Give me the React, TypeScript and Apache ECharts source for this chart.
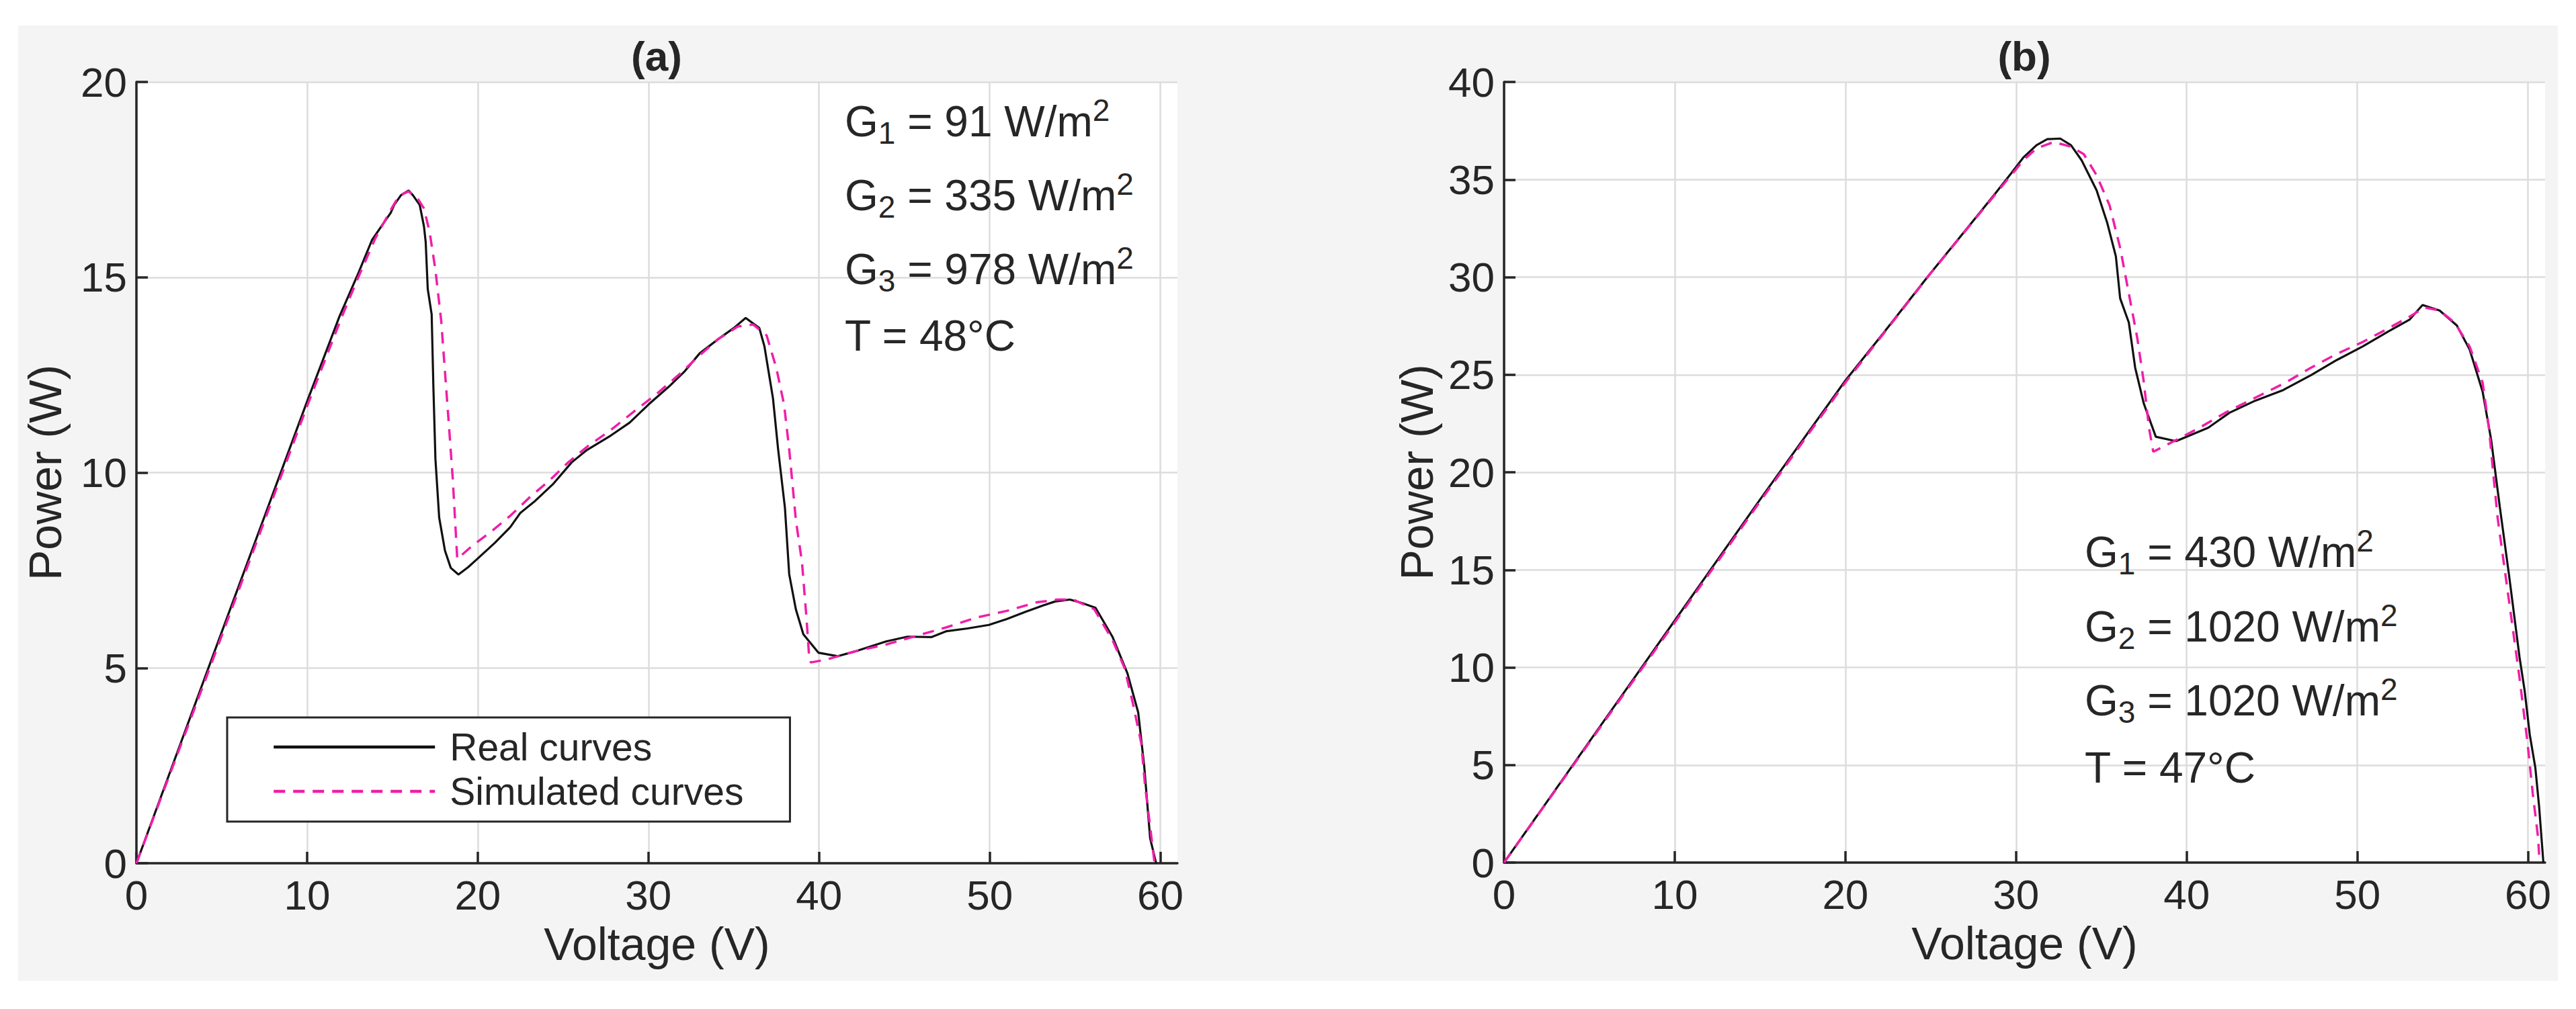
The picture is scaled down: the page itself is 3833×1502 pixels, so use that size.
import * as echarts from "echarts";
import { useEffect, useRef } from "react";

const FONT = '"Liberation Sans", Arial, Helvetica, sans-serif';
const INK = "#262626";
const PINK = "#f01ea8";

const voltageTicks = [0, 10, 20, 30, 40, 50, 60];
const powerTicksA = [0, 5, 10, 15, 20];
const powerTicksB = [0, 5, 10, 15, 20, 25, 30, 35, 40];

const legendNames = ["Real curves", "Simulated curves"];
const panelTitles = ["(a)", "(b)"];

const irradianceA = [91, 335, 978];
const temperatureA = 48;
const irradianceB = [430, 1020, 1020];
const temperatureB = 47;

// [voltage, power]
const realA = [
  [0, 0], [2, 2.37], [4, 4.74], [6, 7.1], [8, 9.46], [10, 11.82], [11.9, 14.0],
  [13.0, 15.1], [13.8, 15.95], [14.5, 16.4], [14.9, 16.65], [15.1, 16.85], [15.5, 17.1],
  [15.95, 17.22], [16.2, 17.1], [16.6, 16.85], [16.85, 16.3], [16.95, 15.9], [17.07, 14.7],
  [17.3, 14.05], [17.4, 12.2], [17.52, 10.35], [17.74, 8.85], [18.08, 8.0], [18.42, 7.56],
  [18.87, 7.39], [19.44, 7.58], [20.0, 7.8], [21.0, 8.2], [21.9, 8.6], [22.5, 8.97],
  [23.3, 9.25], [24.4, 9.7], [25.5, 10.26], [26.4, 10.58], [27.8, 10.95], [28.9, 11.28],
  [30.0, 11.74], [31.2, 12.2], [32.1, 12.58], [33.0, 13.05], [34.1, 13.42], [35.0, 13.7],
  [35.7, 13.96], [36.5, 13.7], [36.8, 13.23], [37.3, 11.9], [37.6, 10.6], [38.0, 9.1],
  [38.25, 7.4], [38.64, 6.5], [39.08, 5.86], [39.96, 5.39], [41.1, 5.3], [42.17, 5.43],
  [43.94, 5.68], [45.18, 5.8], [46.6, 5.79], [47.47, 5.94], [48.7, 6.01], [49.95, 6.1],
  [51.0, 6.25], [52.07, 6.43], [53.13, 6.6], [53.83, 6.7], [54.7, 6.75], [55.42, 6.66],
  [56.2, 6.54], [57.2, 5.79], [58.07, 4.86], [58.7, 3.86], [59.05, 2.5], [59.4, 0.64],
  [59.75, 0],
];

const simulatedA = [
  [0, 0], [4, 4.65], [8, 9.35], [10, 11.7], [12, 13.95], [13, 15.0], [14, 16.0],
  [15, 16.8], [15.4, 17.09], [15.95, 17.2], [16.5, 17.0], [16.84, 16.77], [17.18, 16.16],
  [17.52, 15.19], [17.86, 13.88], [18.08, 12.58], [18.3, 11.28], [18.53, 9.88],
  [18.71, 8.49], [18.8, 7.79], [19.66, 8.12], [20.79, 8.49], [21.92, 8.9], [23.05, 9.37],
  [24.18, 9.79], [25.3, 10.26], [26.43, 10.67], [27.8, 11.09], [29.14, 11.56],
  [30.5, 12.02], [31.85, 12.53], [33.0, 13.0], [34.1, 13.42], [35.24, 13.74],
  [36.14, 13.79], [36.93, 13.51], [37.5, 12.67], [37.95, 11.74], [38.25, 10.6],
  [38.64, 8.79], [39.0, 7.7], [39.26, 6.3], [39.43, 5.21], [39.52, 5.14], [40.4, 5.21],
  [42.17, 5.43], [43.94, 5.6], [45.7, 5.82], [47.47, 6.04], [49.24, 6.29], [51.0, 6.46],
  [52.77, 6.68], [54.0, 6.75], [54.9, 6.75], [56.13, 6.5], [57.2, 5.71], [57.9, 5.0],
  [58.4, 4.07], [58.88, 3.07], [59.1, 2.0], [59.4, 0.93], [59.66, 0],
];

const realB = [
  [0, 0], [5, 6.2], [10, 12.4], [15, 18.6], [20, 24.7], [22.2, 27.1], [24.9, 30.1],
  [26.2, 31.5], [27.6, 33.0], [28.8, 34.3], [29.7, 35.3], [30.45, 36.15], [31.2, 36.76],
  [31.83, 37.07], [32.59, 37.1], [33.22, 36.76], [33.84, 35.99], [34.72, 34.45],
  [35.35, 32.76], [35.85, 31.06], [36.1, 28.91], [36.61, 27.67], [36.98, 25.36],
  [37.49, 23.51], [38.19, 21.82], [39.37, 21.59], [41.26, 22.28], [42.51, 23.05],
  [44.02, 23.67], [45.65, 24.21], [47.29, 24.98], [48.79, 25.75], [50.3, 26.44],
  [51.8, 27.21], [53.07, 27.83], [53.82, 28.57], [54.82, 28.29], [55.83, 27.52],
  [56.58, 26.29], [57.34, 24.13], [57.84, 21.66], [58.34, 18.27], [58.88, 14.78],
  [59.5, 10.54], [59.8, 8.82], [60.1, 6.57], [60.43, 4.85], [60.65, 2.87], [60.9, 0],
];

const simulatedB = [
  [0, 0], [5, 6.15], [10, 12.3], [15, 18.5], [20, 24.6], [25, 30.2], [28, 33.4],
  [29.5, 35.0], [30.45, 36.0], [31.2, 36.6], [32.2, 36.92], [33.2, 36.69], [33.97, 36.3],
  [34.72, 35.22], [35.48, 33.68], [36.1, 31.5], [36.6, 29.2], [37.1, 26.9], [37.49, 24.6],
  [37.79, 22.28], [38.04, 21.05], [39.25, 21.59], [40.75, 22.28], [42.26, 23.05],
  [44.02, 23.82], [45.78, 24.59], [47.29, 25.36], [48.79, 26.06], [50.3, 26.67],
  [51.81, 27.37], [53.07, 27.98], [53.94, 28.44], [54.82, 28.29], [55.7, 27.67],
  [56.58, 26.44], [57.34, 24.59], [57.71, 22.28], [57.96, 19.97], [58.22, 17.66],
  [58.88, 13.45], [59.5, 9.48], [59.97, 6.15], [60.28, 3.53], [60.59, 1.28], [60.65, 0.4],
];

const axisLineStyle = { color: INK, width: 3.5 };

const makeXAxis = (gridIndex: number) => ({
  type: "value",
  gridIndex,
  min: 0,
  max: 61,
  interval: 10,
  name: "Voltage (V)",
  nameLocation: "middle",
  nameGap: 86,
  nameTextStyle: { fontSize: 68, color: INK, fontFamily: FONT },
  axisLine: { show: true, onZero: false, lineStyle: axisLineStyle },
  axisTick: { show: true, inside: true, length: 17, customValues: voltageTicks, lineStyle: axisLineStyle },
  axisLabel: { fontSize: 62, color: INK, fontFamily: FONT, margin: 16, customValues: voltageTicks },
  splitLine: { show: true, lineStyle: { color: "#dcdcdc", width: 2.5 } },
});

const makeYAxis = (gridIndex: number, max: number, ticks: number[], gap: number) => ({
  type: "value",
  gridIndex,
  min: 0,
  max,
  interval: 5,
  name: "Power (W)",
  nameLocation: "middle",
  nameGap: gap,
  nameTextStyle: { fontSize: 68, color: INK, fontFamily: FONT },
  axisLine: { show: true, onZero: false, lineStyle: axisLineStyle },
  axisTick: { show: true, inside: true, length: 17, customValues: ticks, lineStyle: axisLineStyle },
  axisLabel: { fontSize: 62, color: INK, fontFamily: FONT, margin: 14, customValues: ticks },
  splitLine: { show: true, lineStyle: { color: "#dcdcdc", width: 2.5 } },
});

const curve = (name: string, data: number[][], idx: number, dashed: boolean) => ({
  type: "line",
  name,
  data,
  xAxisIndex: idx,
  yAxisIndex: idx,
  symbol: "none",
  showSymbol: false,
  z: dashed ? 4 : 3,
  lineStyle: dashed
    ? { color: PINK, width: 3.5, type: [17, 12] }
    : { color: "#111111", width: 3.2 },
  itemStyle: { color: dashed ? PINK : "#111111" },
});

const richAnnot = {
  s: { fontSize: 46, lineHeight: 46, verticalAlign: "bottom", fontFamily: FONT, fill: INK },
  p: { fontSize: 46, lineHeight: 46, verticalAlign: "top", fontFamily: FONT, fill: INK },
};

const annotLines = (g: number[], t: number) => [
  ...g.map((v, i) => `G{s|${i + 1}} = ${v} W/m{p|2}`),
  `T = ${t}°C`,
];

const annotText = (text: string, x: number, y: number) => ({
  type: "text",
  x,
  y,
  z: 10,
  style: {
    text,
    rich: richAnnot,
    fontSize: 64,
    fontFamily: FONT,
    lineHeight: 80,
    fill: INK,
    align: "left",
    verticalAlign: "middle",
  },
});

export default function App() {
  const ref = useRef<HTMLDivElement>(null);

  useEffect(() => {
    if (!ref.current) return;
    const chart = echarts.init(ref.current, null, { renderer: "svg" });

    const linesA = annotLines(irradianceA, temperatureA);
    const linesB = annotLines(irradianceB, temperatureB);
    const rowsA = [181, 291, 401, 500];
    const rowsB = [822, 933, 1043, 1143];

    const option = {
      animation: false,
      backgroundColor: "#ffffff",
      grid: [
        { left: 203, top: 122, width: 1549, height: 1163, show: true, backgroundColor: "#ffffff", borderWidth: 0 },
        { left: 2238, top: 122, width: 1549, height: 1162, show: true, backgroundColor: "#ffffff", borderWidth: 0 },
      ],
      xAxis: [makeXAxis(0), makeXAxis(1)],
      yAxis: [makeYAxis(0, 20, powerTicksA, 102), makeYAxis(1, 40, powerTicksB, 96)],
      legend: {
        data: legendNames,
        orient: "vertical",
        left: 338,
        top: 1068,
        itemWidth: 240,
        itemHeight: 20,
        itemGap: 8,
        padding: [15, 69, 16, 67],
        backgroundColor: "#ffffff",
        borderColor: INK,
        borderWidth: 3,
        borderRadius: 0,
        selectedMode: false,
        // line series legend icons add a circle marker; hide it
        itemStyle: { opacity: 0 },
        lineStyle: { width: 4.5 },
        textStyle: { fontSize: 57, lineHeight: 58, color: INK, fontFamily: FONT, padding: [0, 0, 0, 17] },
      },
      graphic: {
        elements: [
          {
            type: "rect",
            z: -10,
            silent: true,
            shape: { x: 27, y: 38, width: 3779, height: 1422 },
            style: { fill: "#f4f4f4" },
          },
          {
            type: "text",
            x: 977,
            y: 83,
            style: { text: panelTitles[0], fontSize: 62, fontWeight: "bold", fontFamily: FONT, fill: INK, align: "center", verticalAlign: "middle" },
          },
          {
            type: "text",
            x: 3012,
            y: 83,
            style: { text: panelTitles[1], fontSize: 62, fontWeight: "bold", fontFamily: FONT, fill: INK, align: "center", verticalAlign: "middle" },
          },
          ...linesA.map((t, i) => annotText(t, 1257, rowsA[i])),
          ...linesB.map((t, i) => annotText(t, 3102, rowsB[i])),
        ],
      },
      series: [
        curve(legendNames[0], realA, 0, false),
        curve(legendNames[1], simulatedA, 0, true),
        curve(legendNames[0], realB, 1, false),
        curve(legendNames[1], simulatedB, 1, true),
      ],
    };

    chart.setOption(option as any);
    return () => chart.dispose();
  }, []);

  return (
    <div
      ref={ref}
      style={{ position: "fixed", left: 0, top: 0, width: 3833, height: 1502, background: "#fff" }}
    />
  );
}
